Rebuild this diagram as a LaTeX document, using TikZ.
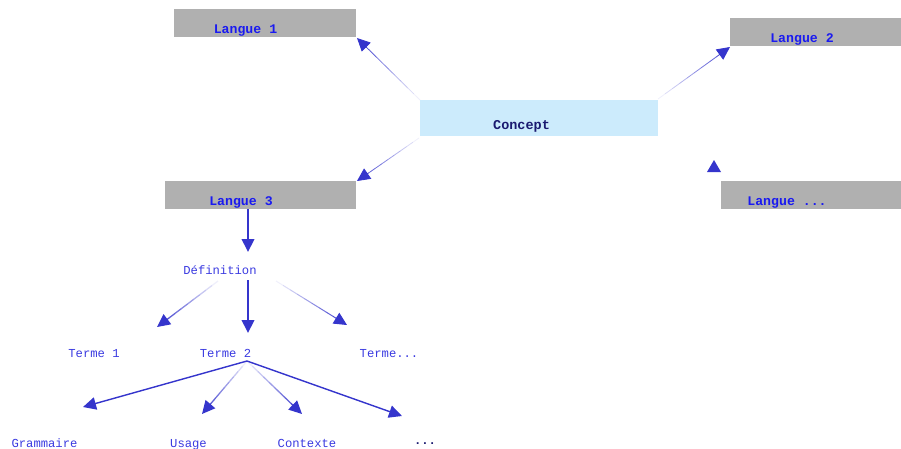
\documentclass[tikz,border=0pt]{standalone}
\usepackage{fontspec}
\usetikzlibrary{arrows.meta,calc}
\newfontfamily\monof{Liberation Mono}
\definecolor{grayb}{HTML}{B0B0B0}
\definecolor{conceptb}{HTML}{CCEBFC}
\definecolor{arrowc}{HTML}{3535CC}
\definecolor{boxtxt}{HTML}{1A1AF0}
\definecolor{navytxt}{HTML}{1A1A70}
\definecolor{lowtxt}{HTML}{3A3AE0}
\tikzset{
  graybox/.style={fill=grayb, draw=none, rectangle, inner sep=0pt},
  conbox/.style={fill=conceptb, draw=none, rectangle, inner sep=0pt},
  boxtext/.style={font=\monof\bfseries\fontsize{13.2}{15}\selectfont, text=boxtxt, inner sep=0pt, anchor=base},
  context/.style={font=\monof\bfseries\fontsize{13.5}{15}\selectfont, text=navytxt, inner sep=0pt, anchor=base},
  lowtext/.style={font=\monof\fontsize{12.2}{14}\selectfont, text=lowtxt, inner sep=0pt, anchor=base},
  tip/.style={-{Triangle[length=13pt,width=12.5pt]}},
  thickarrow/.style={tip, draw=arrowc, line width=2pt},
  midarrow/.style={tip, draw=arrowc, line width=1.4pt},
}
\newcommand\fadearrow[3]{%
  \foreach \i [evaluate=\i as \op using 0.08+0.1*\i,
               evaluate=\i as \s using \i/10,
               evaluate=\i as \e using (\i+1)/10] in {0,...,8}{%
    \draw[draw=arrowc, line width=#3, draw opacity=\op] ($(#1)!\s!(#2)$) -- ($(#1)!\e!(#2)$);}%
  \draw[tip, draw=arrowc, fill=arrowc, line width=#3] ($(#1)!0.85!(#2)$) -- (#2);}
\begin{document}
\begin{tikzpicture}[x=1pt,y=-1pt]
\useasboundingbox (0,0) rectangle (901,448);
% boxes
\node[graybox, minimum width=182pt, minimum height=28pt] (l1) at (265,23) {};
\node[graybox, minimum width=171pt, minimum height=28pt] (l2) at (815.5,32) {};
\node[conbox, minimum width=238pt, minimum height=36pt] (con) at (539,118) {};
\node[graybox, minimum width=191pt, minimum height=28pt] (l3) at (260.5,195) {};
\node[graybox, minimum width=180pt, minimum height=28pt] (ln) at (811,195) {};
% box texts
\node[boxtext] (l1t) at (245.5,33) {Langue 1};
\node[boxtext] (l2t) at (802,42) {Langue 2};
\node[context] (cont) at (521.5,129.5) {Concept};
\node[boxtext] (l3t) at (241,205) {Langue 3};
\node[boxtext] (lnt) at (787,205) {Langue ...};
% lower texts
\node[lowtext] (def) at (220,274) {Définition};
\node[lowtext] (t1) at (94,357) {Terme 1};
\node[lowtext] (t2) at (225.5,357) {Terme 2};
\node[lowtext] (tn) at (389,357) {Terme...};
\node[lowtext] (gr) at (44.5,447) {Grammaire};
\node[lowtext] (us) at (188.5,447) {Usage};
\node[lowtext] (cx) at (307,447.5) {Contexte};
\node[lowtext, font=\monof\bfseries\fontsize{12.2}{14}\selectfont, text=navytxt] (dd) at (425,444) {...};
% connector end points
\coordinate (c1s) at (420,100);
\coordinate (c1e) at (357,38);
\coordinate (c2s) at (658,99);
\coordinate (c2e) at (730,47);
\coordinate (c3s) at (419,138);
\coordinate (c3e) at (357,181);
\coordinate (l3b) at (248,209);
\coordinate (defa) at (248,252);
\coordinate (d1s) at (218,281);
\coordinate (d1e) at (157,327);
\coordinate (d2s) at (248,280);
\coordinate (d2e) at (248,333);
\coordinate (d3s) at (276,281);
\coordinate (d3e) at (347,325);
\coordinate (t2s) at (247,361);
\coordinate (ge) at (83,407);
\coordinate (ue) at (202,414);
\coordinate (ce) at (302,414);
\coordinate (de) at (402,416);
% arrows
\fadearrow{c1s}{c1e}{0.8pt}
\fadearrow{c2s}{c2e}{0.8pt}
\fadearrow{c3s}{c3e}{0.8pt}
\fill[arrowc] (707,172) -- (721,172) -- (714,160) -- cycle;
\draw[thickarrow, fill=arrowc] (l3b) -- (defa);
\draw[thickarrow, fill=arrowc] (d2s) -- (d2e);
\fadearrow{d1s}{d1e}{1.3pt}
\fadearrow{d3s}{d3e}{1pt}
\draw[midarrow, fill=arrowc] (t2s) -- (ge);
\fadearrow{t2s}{ue}{1.3pt}
\fadearrow{t2s}{ce}{1.3pt}
\draw[midarrow, fill=arrowc] (t2s) -- (de);
\end{tikzpicture}
\end{document}
